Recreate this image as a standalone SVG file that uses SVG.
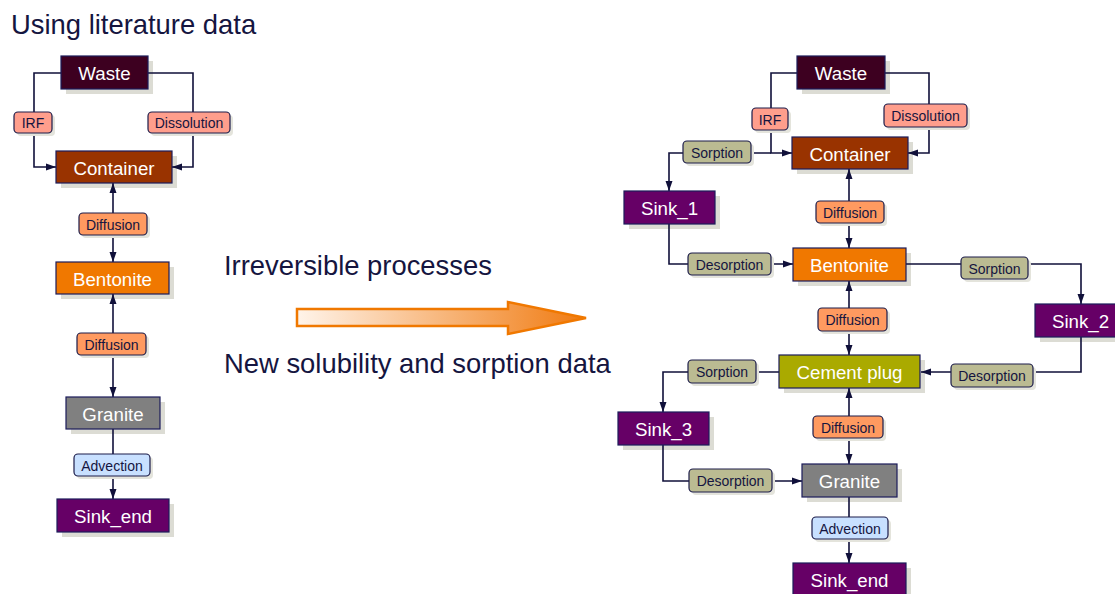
<svg xmlns="http://www.w3.org/2000/svg" width="1115" height="594" viewBox="0 0 1115 594">
<style>
.title{font-family:"Liberation Sans",Arial,sans-serif;font-size:27.4px;fill:#15153f}
.nt{font-family:"Liberation Sans",Arial,sans-serif;font-size:18.7px;fill:#ffffff;text-anchor:middle;dominant-baseline:central}
.lt{font-family:"Liberation Sans",Arial,sans-serif;font-size:14px;fill:#15153f;text-anchor:middle;dominant-baseline:central}
.nb{stroke:#1c1c5a;stroke-width:1.2}
.sh{fill:#dcdcd4}
.lsh{fill:#e4e4dc}
.lb{stroke:#1c1c4a;stroke-width:1.2}
.irf{fill:#ff9e8c}
.dif{fill:#ff9a60}
.sor{fill:#bbbb92}
.adv{fill:#c8e0ff}
.c{fill:none;stroke:#10103a;stroke-width:1.6}
</style>
<defs>
<marker id="ah" markerUnits="userSpaceOnUse" markerWidth="10" markerHeight="10" viewBox="0 0 10 10" refX="10" refY="5" orient="auto">
<path d="M0,1.5 L10,5 L0,8.5 Z" fill="#10103a"/>
</marker>
<linearGradient id="ag" x1="0" y1="0" x2="1" y2="0">
<stop offset="0" stop-color="#fff4ea"/>
<stop offset="1" stop-color="#f07a10"/>
</linearGradient>
</defs>

<text class="title" x="11" y="34">Using literature data</text>
<text class="title" x="224" y="275">Irreversible processes</text>
<text class="title" x="224" y="373">New solubility and sorption data</text>
<polygon points="297,309 508,309 508,302 586,318 508,334 508,326 297,326" fill="url(#ag)" stroke="#f07800" stroke-width="2.5" stroke-linejoin="miter"/>

<!-- node shadows -->
<g id="shadows">
<rect class="sh" x="66" y="61" width="87" height="33"/>
<rect class="sh" x="61" y="156" width="116" height="32"/>
<rect class="sh" x="61" y="267" width="113" height="32"/>
<rect class="sh" x="71" y="402" width="94" height="32"/>
<rect class="sh" x="62" y="504" width="112" height="33"/>
<rect class="sh" x="802" y="61" width="88" height="33"/>
<rect class="sh" x="797" y="142" width="116" height="32"/>
<rect class="sh" x="629" y="196" width="91" height="33"/>
<rect class="sh" x="798" y="253" width="113" height="33"/>
<rect class="sh" x="1040" y="309" width="91" height="33"/>
<rect class="sh" x="784" y="360" width="141" height="33"/>
<rect class="sh" x="623" y="417" width="91" height="33"/>
<rect class="sh" x="807" y="469" width="95" height="33"/>
<rect class="sh" x="798" y="568" width="113" height="33"/>
</g>

<g id="connectors">
<path class="c" d="M61,73 H34 V167 H56" marker-end="url(#ah)"/>
<path class="c" d="M148,73 H193 V167 H172" marker-end="url(#ah)"/>
<path class="c" d="M113,224 V183" marker-end="url(#ah)"/>
<path class="c" d="M113,224 V262" marker-end="url(#ah)"/>
<path class="c" d="M113,344 V294" marker-end="url(#ah)"/>
<path class="c" d="M113,344 V397" marker-end="url(#ah)"/>
<path class="c" d="M113,429 V499" marker-end="url(#ah)"/>

<path class="c" d="M797,73 H771 V153 H792" marker-end="url(#ah)"/>
<path class="c" d="M885,73 H929 V153 H908" marker-end="url(#ah)"/>
<path class="c" d="M771,153 H669 V191" marker-end="url(#ah)"/>
<path class="c" d="M669,224 V264 H793" marker-end="url(#ah)"/>
<path class="c" d="M849,212 V169" marker-end="url(#ah)"/>
<path class="c" d="M849,212 V248" marker-end="url(#ah)"/>
<path class="c" d="M906,264 H1081 V304" marker-end="url(#ah)"/>
<path class="c" d="M1081,337 V372 H921" marker-end="url(#ah)"/>
<path class="c" d="M849,319 V281" marker-end="url(#ah)"/>
<path class="c" d="M849,319 V355" marker-end="url(#ah)"/>
<path class="c" d="M779,372 H663 V412" marker-end="url(#ah)"/>
<path class="c" d="M663,445 V481 H802" marker-end="url(#ah)"/>
<path class="c" d="M849,427 V388" marker-end="url(#ah)"/>
<path class="c" d="M849,427 V464" marker-end="url(#ah)"/>
<path class="c" d="M849,497 V563" marker-end="url(#ah)"/>
</g>

<!-- left diagram nodes -->
<g id="waste_l"><rect class="nb" x="61" y="56" width="87" height="33" fill="#3d0020"/><text class="nt" x="104.5" y="73">Waste</text></g>
<g id="container_l"><rect class="nb" x="56" y="151" width="116" height="32" fill="#993300"/><text class="nt" x="114" y="168">Container</text></g>
<g id="bentonite_l"><rect class="nb" x="56" y="262" width="113" height="32" fill="#f07800"/><text class="nt" x="112.5" y="279">Bentonite</text></g>
<g id="granite_l"><rect class="nb" x="66" y="397" width="94" height="32" fill="#808080"/><text class="nt" x="113" y="414">Granite</text></g>
<g id="sinkend_l"><rect class="nb" x="57" y="499" width="112" height="33" fill="#660066"/><text class="nt" x="113" y="516">Sink_end</text></g>

<g id="irf_l"><rect class="lsh" x="17" y="115" width="38" height="21" rx="4"/><rect class="lb irf" x="14" y="112" width="38" height="21" rx="4"/><text class="lt" x="33" y="123">IRF</text></g>
<g id="dissolution_l"><rect class="lsh" x="151" y="115" width="82" height="21" rx="4"/><rect class="lb irf" x="148" y="112" width="82" height="21" rx="4"/><text class="lt" x="189" y="123">Dissolution</text></g>
<g id="diffusion_l1"><rect class="lsh" x="82" y="216" width="68" height="22" rx="4"/><rect class="lb dif" x="79" y="213" width="68" height="22" rx="4"/><text class="lt" x="113" y="224.5">Diffusion</text></g>
<g id="diffusion_l2"><rect class="lsh" x="80" y="336" width="69" height="22" rx="4"/><rect class="lb dif" x="77" y="333" width="69" height="22" rx="4"/><text class="lt" x="111.5" y="344.5">Diffusion</text></g>
<g id="advection_l"><rect class="lsh" x="77" y="457" width="76" height="22" rx="4"/><rect class="lb adv" x="74" y="454" width="76" height="22" rx="4"/><text class="lt" x="112" y="465.5">Advection</text></g>

<!-- right diagram nodes -->
<g id="waste_r"><rect class="nb" x="797" y="56" width="88" height="33" fill="#3d0020"/><text class="nt" x="841" y="73">Waste</text></g>
<g id="container_r"><rect class="nb" x="792" y="137" width="116" height="32" fill="#993300"/><text class="nt" x="850" y="154">Container</text></g>
<g id="sink1"><rect class="nb" x="624" y="191" width="91" height="33" fill="#660066"/><text class="nt" x="669.5" y="208">Sink_1</text></g>
<g id="bentonite_r"><rect class="nb" x="793" y="248" width="113" height="33" fill="#f07800"/><text class="nt" x="849.5" y="265">Bentonite</text></g>
<g id="sink2"><rect class="nb" x="1035" y="304" width="91" height="33" fill="#660066"/><text class="nt" x="1080.5" y="321">Sink_2</text></g>
<g id="cement"><rect class="nb" x="779" y="355" width="141" height="33" fill="#aaaa00"/><text class="nt" x="849.5" y="372">Cement plug</text></g>
<g id="sink3"><rect class="nb" x="618" y="412" width="91" height="33" fill="#660066"/><text class="nt" x="663.5" y="429">Sink_3</text></g>
<g id="granite_r"><rect class="nb" x="802" y="464" width="95" height="33" fill="#808080"/><text class="nt" x="849.5" y="481">Granite</text></g>
<g id="sinkend_r"><rect class="nb" x="793" y="563" width="113" height="33" fill="#660066"/><text class="nt" x="849.5" y="580">Sink_end</text></g>

<g id="irf_r"><rect class="lsh" x="755" y="111" width="36" height="22" rx="4"/><rect class="lb irf" x="752" y="108" width="36" height="22" rx="4"/><text class="lt" x="770" y="119.5">IRF</text></g>
<g id="dissolution_r"><rect class="lsh" x="887" y="107" width="83" height="23" rx="4"/><rect class="lb irf" x="884" y="104" width="83" height="23" rx="4"/><text class="lt" x="925.5" y="116">Dissolution</text></g>
<g id="sorption1"><rect class="lsh" x="686" y="144" width="68" height="22" rx="4"/><rect class="lb sor" x="683" y="141" width="68" height="22" rx="4"/><text class="lt" x="717" y="152.5">Sorption</text></g>
<g id="diffusion_r1"><rect class="lsh" x="819" y="204" width="68" height="22" rx="4"/><rect class="lb dif" x="816" y="201" width="68" height="22" rx="4"/><text class="lt" x="850" y="212.5">Diffusion</text></g>
<g id="desorption1"><rect class="lsh" x="691" y="256" width="83" height="22" rx="4"/><rect class="lb sor" x="688" y="253" width="83" height="22" rx="4"/><text class="lt" x="729.5" y="264.5">Desorption</text></g>
<g id="sorption2"><rect class="lsh" x="964" y="260" width="67" height="22" rx="4"/><rect class="lb sor" x="961" y="257" width="67" height="22" rx="4"/><text class="lt" x="994.5" y="268.5">Sorption</text></g>
<g id="diffusion_r2"><rect class="lsh" x="821" y="311" width="69" height="23" rx="4"/><rect class="lb dif" x="818" y="308" width="69" height="23" rx="4"/><text class="lt" x="852.5" y="320">Diffusion</text></g>
<g id="desorption2"><rect class="lsh" x="954" y="367" width="82" height="23" rx="4"/><rect class="lb sor" x="951" y="364" width="82" height="23" rx="4"/><text class="lt" x="992" y="376">Desorption</text></g>
<g id="sorption3"><rect class="lsh" x="691" y="363" width="68" height="23" rx="4"/><rect class="lb sor" x="688" y="360" width="68" height="23" rx="4"/><text class="lt" x="722" y="372">Sorption</text></g>
<g id="diffusion_r3"><rect class="lsh" x="816" y="419" width="70" height="22" rx="4"/><rect class="lb dif" x="813" y="416" width="70" height="22" rx="4"/><text class="lt" x="848" y="427.5">Diffusion</text></g>
<g id="desorption3"><rect class="lsh" x="692" y="472" width="83" height="23" rx="4"/><rect class="lb sor" x="689" y="469" width="83" height="23" rx="4"/><text class="lt" x="730.5" y="481">Desorption</text></g>
<g id="advection_r"><rect class="lsh" x="815" y="520" width="76" height="22" rx="4"/><rect class="lb adv" x="812" y="517" width="76" height="22" rx="4"/><text class="lt" x="850" y="528.5">Advection</text></g>
</svg>
